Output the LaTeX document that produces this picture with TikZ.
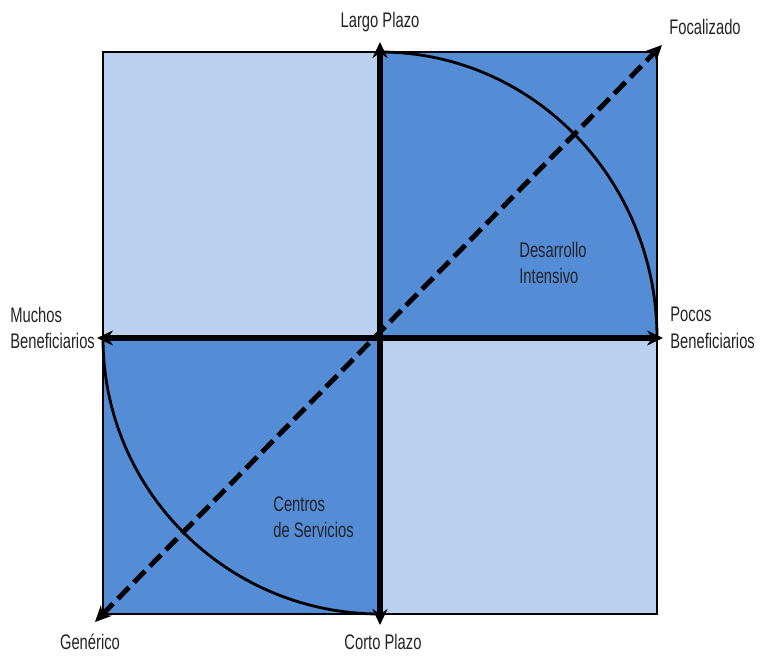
\documentclass[tikz,border=0pt]{standalone}
\usepackage{fontspec}
\setmainfont[FakeStretch=0.7]{Liberation Sans}
\usepackage{xcolor}
\usetikzlibrary{arrows.meta, positioning, calc}

\definecolor{lightq}{RGB}{186,208,238}
\definecolor{darkq}{RGB}{84,140,214}
\definecolor{txt}{RGB}{35,35,40}

\begin{document}
\begin{tikzpicture}[
  every node/.style={font=\fontsize{12}{15}\selectfont, text=txt},
  lbl/.style={align=left, inner sep=0pt},
  axis/.style={{Stealth[length=0.32cm, width=0.3cm]}-{Stealth[length=0.32cm, width=0.3cm]}, line width=3pt},
  diag/.style={{Stealth[length=0.32cm, width=0.3cm]}-{Stealth[length=0.32cm, width=0.3cm]},
               line width=2.8pt, dash pattern=on 9pt off 4pt},
  frame/.style={draw=black, line width=1pt},
  arcline/.style={line width=1.6pt},
]
\useasboundingbox (0,0) rectangle (15.22,13.1);

% quadrants
\coordinate (O)  at (7.6,6.34);
\coordinate (SW) at (2.06,0.82);
\coordinate (NE) at (13.14,12.06);
\fill[lightq] (2.06,6.34) rectangle (7.6,12.06);
\fill[darkq]  (O) rectangle (NE);
\fill[darkq]  (SW) rectangle (O);
\fill[lightq] (7.6,0.82) rectangle (13.14,6.34);
\draw[frame] (SW) rectangle (NE);

% arcs
\draw[arcline] (7.6,12.06) arc[start angle=90, end angle=0, x radius=5.54, y radius=5.72];
\draw[arcline] (2.06,6.34) arc[start angle=180, end angle=270, x radius=5.54, y radius=5.52];

% axis ends
\coordinate (N) at (7.6,12.26);
\coordinate (S) at (7.6,0.6);
\coordinate (W) at (1.94,6.34);
\coordinate (E) at (13.26,6.34);
\coordinate (G) at (1.9,0.66);
\coordinate (F) at (13.24,12.2);

\draw[diag] (G) -- (F);
\draw[axis] (S) -- (N);
\draw[axis] (W) -- (E);

% labels
\node (largo) at (7.6,12.66) {Largo Plazo};
\node (corto) at (7.66,0.26) {Corto Plazo};
\node (foc)   at (14.1,12.56) {Focalizado};
\node (gen)   at (1.8,0.26) {Genérico};
\node[lbl, anchor=west] (muchos) at (0.2,6.54) {Muchos\\Beneficiarios};
\node[lbl, anchor=west] (pocos)  at (13.4,6.54) {Pocos\\Beneficiarios};
\node[lbl, anchor=west] (des)    at (10.38,7.84) {Desarrollo\\Intensivo};
\node[lbl, anchor=west] (cen)    at (5.46,2.76) {Centros\\de Servicios};
\end{tikzpicture}
\end{document}
